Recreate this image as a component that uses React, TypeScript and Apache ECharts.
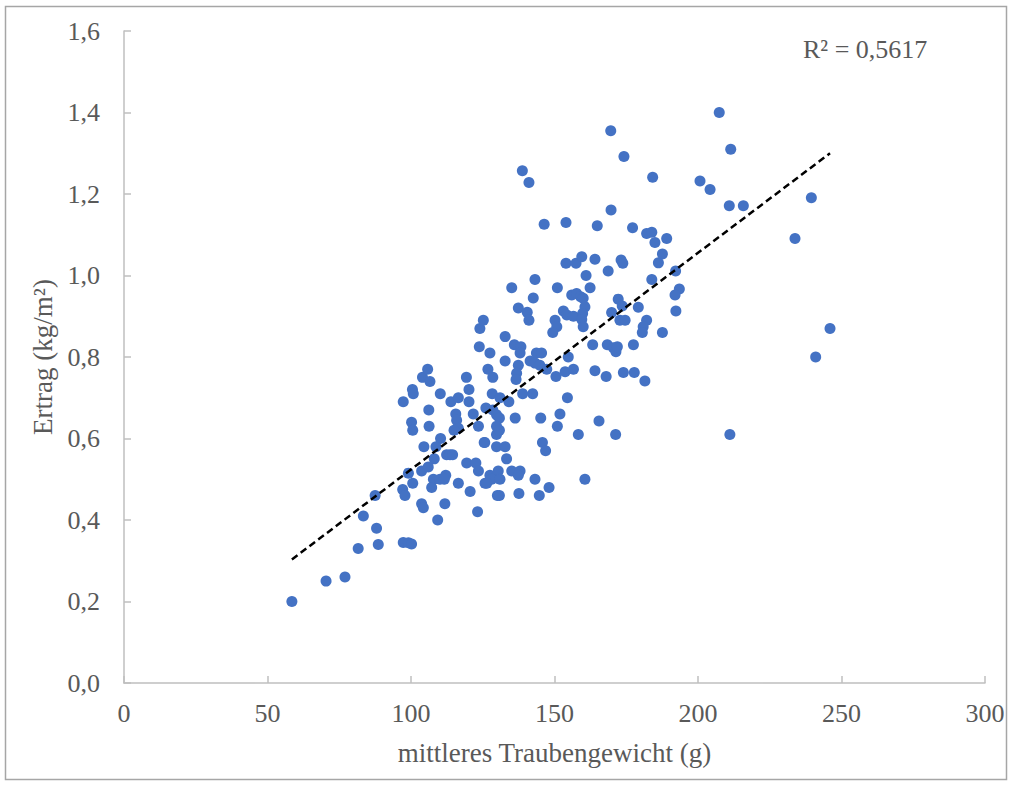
import React, { useEffect, useRef } from "react";
import * as echarts from "echarts";

// mittleres Traubengewicht (g)
const weights: number[] = [
  58.5, 70.4, 77, 81.6, 83.4, 87.5, 88, 88.6, 97.3, 99.1, 100.2,
  97.3, 100.5, 100.8, 104, 105.8, 106.6, 106.2, 100.2, 100.6, 106.3, 110.2, 110.3, 108.7, 112.4, 113.6, 104.5, 108.1, 103.7, 106, 99.1, 100.6, 107.8, 110.1, 112.1, 111.6, 107.2, 97.1, 97.9, 103.7, 104.3, 111.8, 109.3,
  113.9, 116.5, 119.3, 120.2, 120.2, 115.6, 115.9, 116.5, 115, 121.7, 123.5, 114.5, 119.4, 122.6, 123.5, 116.5, 120.6, 123.2, 124, 125.2, 123.8,
  127.5, 126.8, 128.5, 128.3, 126.1, 128.5, 129.8, 130.8, 129.8, 125.7, 129.8, 125.8, 127.5, 129.8, 130.1, 132.8, 132.8, 131, 134.1, 129.8, 130.8, 125.5, 132.8, 133.3, 130.4, 128.1, 126.4, 131, 130.8,
  135.1, 136.3, 135.1, 138, 137.4, 137.6, 137.4, 140.5, 141.1, 136, 138.3, 138, 137.4, 136.8, 136.6, 138.9, 142.4, 138.8, 141.1, 143.2, 142.6, 143.7, 145.5, 141.5, 143.2, 144.9, 145.2, 145.8, 146.9, 143.2, 148.1, 144.7, 146.4, 147.3,
  154, 154, 157.5, 159.5, 151, 156, 157.7, 159.1, 160, 153.1, 154.3, 156.6, 160.6, 159.8, 150.2, 150.8, 149.4, 159.5, 160, 154.8, 153.7, 156.6, 150.5, 154.5, 151.9, 151, 158.3, 160.6, 161, 162.4, 164.1, 164.9, 163.3, 164.1, 165.5,
  169.7, 169.6, 174.2, 168.7, 173.2, 173.8, 172.2, 173.6, 169.9, 172.8, 174.6, 168.4, 170.5, 171.4, 171.9, 168, 174, 171.3, 177.2, 177.8, 177.5, 179.2, 182.1, 180.9, 180.6, 181.5, 182.1, 183.9, 185, 183.9, 186.2, 187.6, 189.1, 187.6, 184.2, 192.2, 193.5, 192, 192.3,
  200.7, 204.2, 207.4, 211.4, 210.9, 215.8, 211.1, 233.8, 239.5, 241, 246,
];

// Ertrag (kg/m²)
const yields: number[] = [
  0.2, 0.25, 0.26, 0.33, 0.41, 0.46, 0.38, 0.34, 0.345, 0.344, 0.341,
  0.69, 0.72, 0.71, 0.75, 0.77, 0.74, 0.67, 0.64, 0.62, 0.63, 0.71, 0.6, 0.58, 0.56, 0.56, 0.58, 0.55, 0.52, 0.53, 0.515, 0.49, 0.5, 0.5, 0.51, 0.5, 0.48, 0.475, 0.46, 0.44, 0.43, 0.44, 0.4,
  0.69, 0.7, 0.75, 0.72, 0.69, 0.66, 0.645, 0.625, 0.62, 0.66, 0.63, 0.56, 0.54, 0.54, 0.52, 0.49, 0.47, 0.42, 0.87, 0.89, 0.825,
  0.81, 0.77, 0.75, 0.71, 0.675, 0.67, 0.658, 0.65, 0.61, 0.59, 0.58, 0.49, 0.51, 0.51, 0.46, 0.85, 0.79, 0.7, 0.69, 0.63, 0.62, 0.59, 0.58, 0.55, 0.52, 0.5, 0.49, 0.5, 0.46,
  0.97, 0.65, 0.52, 0.52, 0.51, 0.465, 0.92, 0.91, 0.89, 0.83, 0.825, 0.81, 0.78, 0.76, 0.745, 0.71, 0.71, 1.257, 1.228, 0.99, 0.945, 0.81, 0.81, 0.79, 0.785, 0.78, 0.65, 0.59, 0.57, 0.5, 0.48, 0.46, 1.126, 0.77,
  1.13, 1.03, 1.03, 1.046, 0.97, 0.952, 0.956, 0.948, 0.944, 0.913, 0.903, 0.9, 0.923, 0.907, 0.89, 0.874, 0.86, 0.892, 0.874, 0.8, 0.764, 0.77, 0.752, 0.7, 0.66, 0.63, 0.61, 0.5, 1.0, 0.97, 1.04, 1.122, 0.83, 0.766, 0.643,
  1.161, 1.355, 1.292, 1.011, 1.038, 1.03, 0.942, 0.925, 0.909, 0.89, 0.89, 0.83, 0.823, 0.813, 0.825, 0.752, 0.762, 0.61, 1.117, 0.762, 0.83, 0.922, 0.89, 0.874, 0.86, 0.741, 1.103, 1.106, 1.081, 0.99, 1.031, 1.053, 1.091, 0.86, 1.241, 1.011, 0.967, 0.952, 0.913,
  1.232, 1.211, 1.4, 1.31, 1.171, 1.171, 0.61, 1.091, 1.191, 0.8, 0.87,
];

const xTicks = { min: 0, max: 300, interval: 50 };
const yTicks = { min: 0, max: 1.6, interval: 0.2 };
const r2Label = "R² = 0,5617";
const xTitle = "mittleres Traubengewicht (g)";
const yTitle = "Ertrag (kg/m²)";

function linearFit(xs: number[], ys: number[]) {
  const n = Math.min(xs.length, ys.length);
  let sx = 0, sy = 0, sxx = 0, sxy = 0;
  for (let i = 0; i < n; i++) {
    sx += xs[i]; sy += ys[i]; sxx += xs[i] * xs[i]; sxy += xs[i] * ys[i];
  }
  const slope = (n * sxy - sx * sy) / (n * sxx - sx * sx);
  const intercept = (sy - slope * sx) / n;
  return { slope, intercept };
}

export default function App() {
  const ref = useRef<HTMLDivElement>(null);
  useEffect(() => {
    document.body.style.margin = "0";
    if (!ref.current) return;
    const chart = echarts.init(ref.current, undefined, { renderer: "svg" });
    const n = Math.min(weights.length, yields.length);
    const points = [] as number[][];
    for (let i = 0; i < n; i++) points.push([weights[i], yields[i]]);
    const { slope, intercept } = linearFit(weights.slice(0, n), yields.slice(0, n));
    const xMin = Math.min(...weights.slice(0, n));
    const xMax = Math.max(...weights.slice(0, n));
    const trend = [
      [xMin, intercept + slope * xMin],
      [xMax, intercept + slope * xMax],
    ];
    const font = "'Liberation Serif', 'Times New Roman', serif";
    const textColor = "#595959";
    const axisColor = "#bfbfbf";
    chart.setOption({
      animation: false,
      backgroundColor: "#ffffff",
      textStyle: { fontFamily: font },
      grid: { left: 124, right: 27, top: 31, bottom: 102, containLabel: false },
      xAxis: {
        type: "value",
        min: xTicks.min,
        max: xTicks.max,
        interval: xTicks.interval,
        name: xTitle,
        nameLocation: "middle",
        nameGap: 56,
        nameTextStyle: { fontFamily: font, fontSize: 27, color: textColor },
        axisLine: { show: true, lineStyle: { color: axisColor, width: 1.5 } },
        axisTick: { show: true, inside: true, length: 7, lineStyle: { color: axisColor, width: 1.5 } },
        axisLabel: { fontFamily: font, fontSize: 26, color: textColor, margin: 17 },
        splitLine: { show: false },
      },
      yAxis: {
        type: "value",
        min: yTicks.min,
        max: yTicks.max,
        interval: yTicks.interval,
        name: yTitle,
        nameLocation: "middle",
        nameGap: 66,
        nameTextStyle: { fontFamily: font, fontSize: 27, color: textColor },
        axisLine: { show: true, lineStyle: { color: axisColor, width: 1.5 } },
        axisTick: { show: true, inside: true, length: 7, lineStyle: { color: axisColor, width: 1.5 } },
        axisLabel: {
          fontFamily: font,
          fontSize: 26,
          color: textColor,
          margin: 24,
          formatter: (v: number) => v.toFixed(1).replace(".", ","),
        },
        splitLine: { show: false },
      },
      graphic: [
        {
          type: "rect",
          shape: { x: 5.5, y: 6.5, width: 1001, height: 773 },
          style: { fill: "none", stroke: "#a6a6a6", lineWidth: 1.5 },
          silent: true,
          z: -10,
        },
        {
          type: "text",
          left: 803,
          top: 36,
          style: { text: r2Label, font: `26px ${font}`, fill: textColor },
        },
      ],
      series: [
        {
          type: "scatter",
          data: points,
          symbol: "circle",
          symbolSize: 11,
          itemStyle: { color: "#4472C4", opacity: 1 },
          z: 2,
        },
        {
          type: "line",
          data: trend,
          symbol: "none",
          lineStyle: { color: "#000000", width: 2.5, type: [7, 4] },
          z: 3,
          silent: true,
        },
      ],
    });
    return () => chart.dispose();
  }, []);
  return <div ref={ref} style={{ width: 1012, height: 785 }} />;
}
